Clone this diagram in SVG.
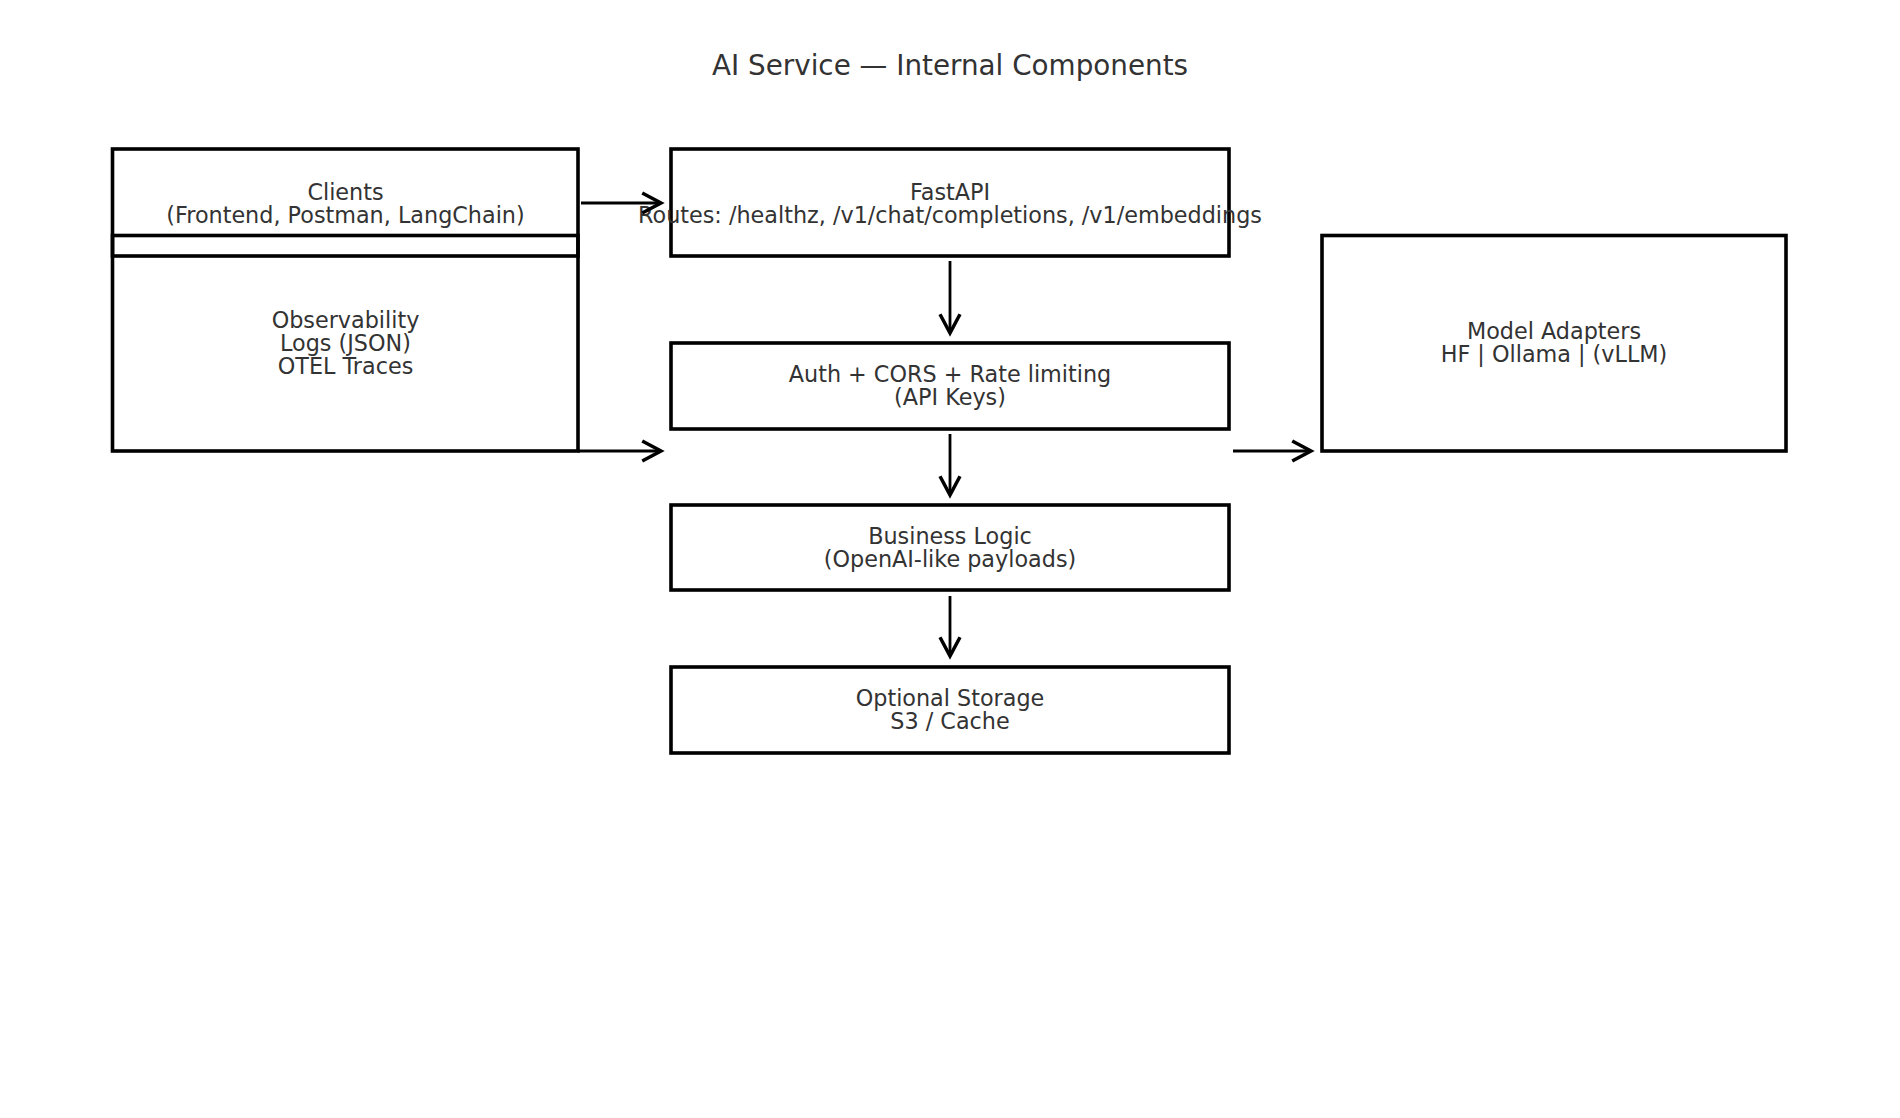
<svg xmlns="http://www.w3.org/2000/svg" width="1900" height="1118" viewBox="0 0 1900 1118">
<defs>
<style>
.box{fill:none;stroke:#000;stroke-width:3.6}
.t{font-family:"DejaVu Sans",sans-serif;font-size:22.3px;fill:#333;text-anchor:middle}
.title{font-family:"DejaVu Sans",sans-serif;font-size:27.8px;fill:#333;text-anchor:middle}
.edge{stroke:#000;stroke-width:2.8;fill:none}
</style>
<marker id="arr" markerUnits="userSpaceOnUse" markerWidth="30" markerHeight="30" refX="0" refY="0" viewBox="-20 -12 24 24" orient="auto" overflow="visible">
<path d="M -15 -8 L 0 0 L -15 8" fill="none" stroke="#000" stroke-width="2.8" stroke-linejoin="miter"/>
</marker>
</defs>
<rect width="1900" height="1118" fill="#fff"/>
<text class="title" x="950" y="75">AI Service — Internal Components</text>
<g id="clients">
<rect class="box" x="112.5" y="149" width="465.5" height="107"/>
<text class="t" x="345.5" y="199.5">Clients</text>
<text class="t" x="345.5" y="222.5">(Frontend, Postman, LangChain)</text>
</g>
<g id="observability">
<rect class="box" x="112.5" y="235.5" width="465.5" height="215.5"/>
<text class="t" x="345.5" y="327.5">Observability</text>
<text class="t" x="345.5" y="350.5">Logs (JSON)</text>
<text class="t" x="345.5" y="373.5">OTEL Traces</text>
</g>
<g id="fastapi">
<rect class="box" x="671" y="149" width="558" height="107"/>
<text class="t" x="950" y="199.5">FastAPI</text>
<text class="t" x="950" y="222.5">Routes: /healthz, /v1/chat/completions, /v1/embeddings</text>
</g>
<g id="auth">
<rect class="box" x="671" y="343" width="558" height="86"/>
<text class="t" x="950" y="382">Auth + CORS + Rate limiting</text>
<text class="t" x="950" y="405">(API Keys)</text>
</g>
<g id="business">
<rect class="box" x="671" y="505" width="558" height="85"/>
<text class="t" x="950" y="544">Business Logic</text>
<text class="t" x="950" y="567">(OpenAI-like payloads)</text>
</g>
<g id="storage">
<rect class="box" x="671" y="667" width="558" height="86"/>
<text class="t" x="950" y="706">Optional Storage</text>
<text class="t" x="950" y="729">S3 / Cache</text>
</g>
<g id="model">
<rect class="box" x="1322" y="235.5" width="464" height="215.5"/>
<text class="t" x="1554" y="339">Model Adapters</text>
<text class="t" x="1554" y="362">HF | Ollama | (vLLM)</text>
</g>
<g id="connectors">
<line class="edge" x1="581" y1="203" x2="661" y2="203" marker-end="url(#arr)"/>
<line class="edge" x1="578" y1="451" x2="661" y2="451" marker-end="url(#arr)"/>
<line class="edge" x1="950" y1="261" x2="950" y2="333" marker-end="url(#arr)"/>
<line class="edge" x1="950" y1="434" x2="950" y2="495" marker-end="url(#arr)"/>
<line class="edge" x1="950" y1="596" x2="950" y2="656" marker-end="url(#arr)"/>
<line class="edge" x1="1233" y1="451" x2="1311" y2="451" marker-end="url(#arr)"/>
</g>
</svg>
